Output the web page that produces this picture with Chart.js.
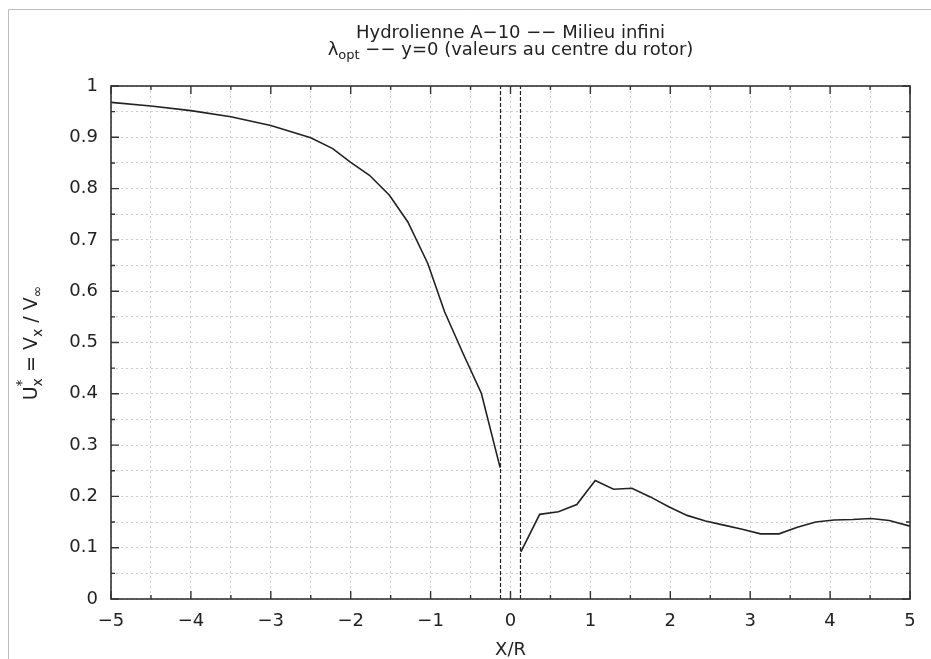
<!DOCTYPE html>
<html>
<head>
<meta charset="utf-8">
<script src="https://cdn.jsdelivr.net/npm/chart.js@4/dist/chart.umd.min.js"></script>
<style>
  html, body { margin: 0; padding: 0; background: #fff; }
</style>
</head>
<body>
<canvas id="chart" width="931" height="659"></canvas>
<script>
// upstream of the rotor (x/R < 0)
const xUp = [-5, -4.5, -4, -3.5, -3, -2.5, -2.225, -2, -1.765, -1.515, -1.285, -1.035, -0.825, -0.595, -0.365, -0.13];
const yUp = [0.968, 0.961, 0.952, 0.940, 0.923, 0.899, 0.878, 0.851, 0.826, 0.787, 0.735, 0.654, 0.560, 0.479, 0.401, 0.256];
// downstream of the rotor (x/R > 0)
const xDown = [0.13, 0.365, 0.6, 0.83, 1.06, 1.29, 1.52, 1.75, 1.98, 2.21, 2.44, 2.67, 2.9, 3.13, 3.36, 3.59, 3.82, 4.05, 4.28, 4.51, 4.74, 5];
const yDown = [0.092, 0.165, 0.170, 0.184, 0.231, 0.214, 0.216, 0.199, 0.180, 0.163, 0.152, 0.144, 0.136, 0.127, 0.127, 0.140, 0.150, 0.154, 0.155, 0.157, 0.153, 0.142];
// rotor limits (dashed lines)
const rotorX = [-0.125, 0.125];
const rotorY = [0, 1];

const FONT = "'DejaVu Sans', 'Liberation Sans', sans-serif";
const INK = '#222';

const toPts = (xs, ys) => xs.map((x, i) => ({ x: x, y: ys[i] }));

function drawParts(ctx, parts, x0, y0, align) {
    let total = 0;
    parts.forEach(p => {
        ctx.font = p.f + 'px ' + FONT;
        p.w = ctx.measureText(p.t).width;
        if (!p.stack) total += p.w;
    });
    let x = align === 'center' ? x0 - total / 2 : x0;
    ctx.textAlign = 'left';
    ctx.textBaseline = 'alphabetic';
    parts.forEach(p => {
        ctx.font = p.f + 'px ' + FONT;
        ctx.fillText(p.t, x, y0 + (p.dy || 0));
        if (!p.stack) x += p.w;
    });
}

const decor = {
    id: 'decor',
    afterDraw(chart) {
        const ctx = chart.ctx;
        const a = chart.chartArea;
        const sx = chart.scales.x, sy = chart.scales.y;
        ctx.save();

        // outer light frame
        ctx.strokeStyle = '#bdbdbd';
        ctx.lineWidth = 1;
        ctx.beginPath();
        ctx.moveTo(8.5, 659); ctx.lineTo(8.5, 9.5); ctx.lineTo(931, 9.5);
        ctx.stroke();

        // plot frame
        ctx.strokeStyle = '#333';
        ctx.lineWidth = 1.6;
        ctx.strokeRect(a.left, a.top, a.right - a.left, a.bottom - a.top);

        // inward ticks on all sides
        ctx.lineWidth = 1.4;
        ctx.beginPath();
        sx.ticks.forEach(t => {
            const px = sx.getPixelForValue(t.value);
            const len = Math.abs(t.value - Math.round(t.value)) < 1e-6 ? 8 : 4;
            ctx.moveTo(px, a.bottom); ctx.lineTo(px, a.bottom - len);
            ctx.moveTo(px, a.top); ctx.lineTo(px, a.top + len);
        });
        sy.ticks.forEach(t => {
            const py = sy.getPixelForValue(t.value);
            const len = Math.round(t.value * 100) % 10 === 0 ? 8 : 4;
            ctx.moveTo(a.left, py); ctx.lineTo(a.left + len, py);
            ctx.moveTo(a.right, py); ctx.lineTo(a.right - len, py);
        });
        ctx.stroke();

        ctx.fillStyle = INK;
        const cx = (a.left + a.right) / 2;

        // title
        drawParts(ctx, [{ t: 'Hydrolienne A\u221210 \u2212\u2212 Milieu infini', f: 18 }], cx, 38, 'center');
        drawParts(ctx, [
            { t: '\u03bb', f: 18 },
            { t: 'opt', f: 13, dy: 4 },
            { t: ' \u2212\u2212 y=0 (valeurs au centre du rotor)', f: 18 }
        ], cx, 55, 'center');

        // x axis title
        ctx.font = '18px ' + FONT;
        ctx.textAlign = 'center';
        ctx.textBaseline = 'alphabetic';
        ctx.fillText('X/R', cx, 655);

        // y axis title
        ctx.translate(37, 343);
        ctx.rotate(-Math.PI / 2);
        drawParts(ctx, [
            { t: 'U', f: 19 },
            { t: '*', f: 14, dy: -11, stack: true },
            { t: 'x', f: 14, dy: 5 },
            { t: ' = V', f: 19 },
            { t: 'x', f: 14, dy: 5 },
            { t: ' / V', f: 19 },
            { t: '\u221e', f: 14, dy: 5 }
        ], 0, 0, 'center');

        ctx.restore();
    }
};

const lineStyle = { borderColor: INK, borderWidth: 1.6, pointRadius: 0, tension: 0, fill: false };
const dashStyle = { borderColor: '#222', borderWidth: 1.2, borderDash: [4, 2], pointRadius: 0, fill: false };

new Chart(document.getElementById('chart'), {
    type: 'scatter',
    data: {
        datasets: [
            Object.assign({ data: toPts(xUp, yUp), showLine: true }, lineStyle),
            Object.assign({ data: toPts(xDown, yDown), showLine: true }, lineStyle),
            Object.assign({ data: toPts([rotorX[0], rotorX[0]], rotorY), showLine: true }, dashStyle),
            Object.assign({ data: toPts([rotorX[1], rotorX[1]], rotorY), showLine: true }, dashStyle)
        ]
    },
    options: {
        responsive: false,
        animation: false,
        layout: { padding: { left: 0, right: 21, top: 86, bottom: 0 } },
        plugins: { legend: { display: false }, tooltip: { enabled: false }, title: { display: false } },
        scales: {
            x: {
                type: 'linear', min: -5, max: 5,
                afterFit: s => { s.height = 60; },
                grid: { color: '#cdcdcd', lineWidth: 1, drawTicks: false },
                border: { display: false, dash: [2, 3] },
                ticks: {
                    stepSize: 0.5, autoSkip: false, maxRotation: 0, padding: 12,
                    color: INK, font: { family: FONT, size: 18 },
                    callback: v => Math.abs(v - Math.round(v)) < 1e-6
                        ? (Math.round(v) < 0 ? '\u2212' + Math.abs(Math.round(v)) : String(Math.round(v))) : ''
                }
            },
            y: {
                type: 'linear', min: 0, max: 1,
                afterFit: s => { s.width = 111; },
                grid: { color: '#cdcdcd', lineWidth: 1, drawTicks: false },
                border: { display: false, dash: [2, 3] },
                ticks: {
                    stepSize: 0.05, autoSkip: false, padding: 13,
                    color: INK, font: { family: FONT, size: 18 },
                    callback: v => {
                        const k = Math.round(v * 100);
                        if (k % 10 !== 0) return '';
                        return k === 0 ? '0' : k === 100 ? '1' : (k / 100).toFixed(1);
                    }
                }
            }
        }
    },
    plugins: [decor]
});
</script>
</body>
</html>
